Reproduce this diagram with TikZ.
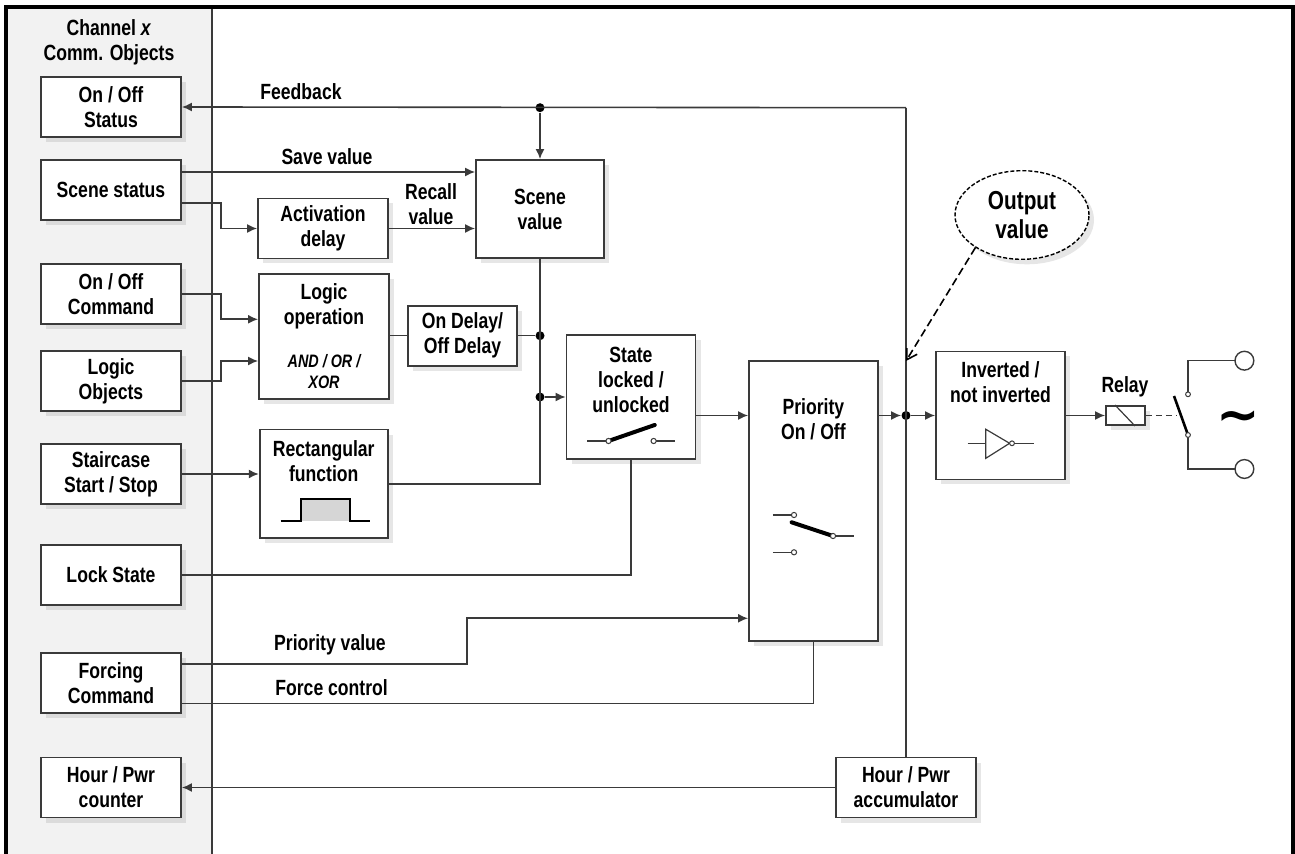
\documentclass[tikz,border=0pt]{standalone}
\usepackage{fontspec}
\setmainfont[FakeStretch=0.8]{Liberation Sans}
\newfontfamily\symfont{DejaVu Sans}
\usepackage{tikz}
\usetikzlibrary{
  positioning,
  shapes.geometric,
  arrows.meta,
  shadows,
  calc,
  }
\definecolor{linegray}{HTML}{3A3A3A}
\definecolor{panelgray}{HTML}{F2F2F2}
\definecolor{pulsegray}{HTML}{D6D6D6}
\tikzset{
  block/.style={draw=linegray, line width=0.9pt, fill=white, align=center, inner sep=0pt,
    drop shadow={shadow xshift=2.5pt, shadow yshift=-2.5pt, opacity=0.2}},
  objbox/.style={block, minimum width=70pt, minimum height=30pt},
  txt/.style={align=center, inner sep=0pt},
  conn/.style={draw=linegray, line width=0.8pt},
  arr/.style={conn, -{Latex[length=5pt,width=4.5pt]}},
  jdot/.style={circle, fill=black, inner sep=0pt, minimum size=4.5pt},
  contact/.style={draw=linegray, fill=white, line width=0.5pt},
}
\begin{document}
\begin{tikzpicture}
                [x=0.5pt, y=-0.5pt,
                 every node/.style={font=\bfseries\fontsize{11}{12.5}\selectfont}]
                \useasboundingbox (0,0) rectangle (1295,854);
                % panel of comm. objects and frame
                \fill[panelgray] (8,9) rectangle (212,854);
                \draw[linegray, line width=0.7pt] (212,9) -- (212,854);
                \draw[line width=1.6pt] (6,854) -- (6,7) -- (1293,7) -- (1293,854);

                \node[txt] (title) at (109,42) {Channel \textit{x}\\Comm. Objects};
                \node[objbox] (status) at (111,107) {On / Off\\Status};
                \node[objbox] (scene) at (111,190) {Scene status};
                \node[objbox] (cmd) at (111,294) {On / Off\\Command};
                \node[objbox] (logic) at (111,381) {Logic\\Objects};
                \node[objbox] (stair) at (111,474) {Staircase\\Start / Stop};
                \node[objbox] (lock) at (111,575) {Lock State};
                \node[objbox] (forcing) at (111,683) {Forcing\\Command};
                \node[objbox] (counter) at (111,787.5) {Hour / Pwr\\counter};

                % function blocks
                \node[block, minimum width=64pt, minimum height=49pt] (sceneval) at (540,209) {Scene\\value};
                \node[block, minimum width=65pt, minimum height=30pt] (actdelay) at (323,228.5) {Activation\\delay};
                \node[block, minimum width=65pt, minimum height=62.5pt] (logicop) at (324,336.5)
                    {Logic\\operation\\[9pt]{\fontsize{9}{10.5}\selectfont\itshape AND / OR /}\\[-2pt]{\fontsize{9}{10.5}\selectfont\itshape XOR}};
                \node[block, minimum width=54.5pt, minimum height=30pt] (ondelay) at (462.5,335.7) {On Delay/\\Off Delay};
                \node[block, minimum width=64pt, minimum height=54.4pt] (rectfn) at (323.7,484) {};
                \node[block, minimum width=64.5pt, minimum height=62pt] (state) at (631,397) {};
                \node[block, minimum width=64.4pt, minimum height=140pt] (prio) at (813.4,500.7) {};
                \node[block, minimum width=64.5pt, minimum height=64pt] (inv) at (1000.5,415.5) {};
                \node[block, minimum width=19.5pt, minimum height=9.5pt] (relay) at (1125.5,415.5) {};
                \node[objbox] (acc) at (906,787.5) {Hour / Pwr\\accumulator};
                \node[ellipse, draw=black, line width=0.7pt, dash pattern=on 2pt off 1pt, fill=white,
                      minimum width=67pt, minimum height=44.3pt, inner sep=0pt, align=center,
                      drop shadow={shadow xshift=2.5pt, shadow yshift=-2.5pt, opacity=0.2},
                      font=\bfseries\fontsize{13}{14.7}\selectfont] (outval) at (1022,215) {Output\\value};

                \node[txt] (rectfn-t) at (323.7,461.5) {Rectangular\\function};
                \node[txt] (state-t) at (631,380.3) {State\\locked /\\unlocked};
                \node[txt] (prio-t) at (813.4,419.2) {Priority\\On / Off};
                \node[txt] (inv-t) at (1000.5,382.5) {Inverted /\\not inverted};

                % labels
                \node[txt] (fblabel) at (301,92) {Feedback};
                \node[txt] (savelabel) at (327,157) {Save value};
                \node[txt] (recalllabel) at (431,204) {Recall\\value};
                \node[txt] (priolabel) at (330,645) {Priority value};
                \node[txt] (forcelabel) at (331.6,687.3) {Force control};
                \node[txt] (relaylabel) at (1125,386.7) {Relay};
                \node[txt, font=\symfont\bfseries\fontsize{26}{26}\selectfont] (tilde) at (1238.6,422) {\char"223C};

                % junctions
                \coordinate (fbtop) at (906,107.7);
                \node[jdot] (fbdot) at (540,107.7) {};
                \node[jdot] (dlydot) at (540,335.7) {};
                \node[jdot] (stdot) at (540,397) {};
                \node[jdot] (outdot) at (906,415.5) {};
                \coordinate (ovtip) at (906,361);

                % connectors
                \draw[arr] (fbtop) -- (status.east);
                \draw[conn] (fbtop) -- (acc.north);
                \draw[arr] ([yshift=9pt]scene.east) -- ([yshift=9pt]scene.east -| sceneval.west);
                \draw[arr] ([yshift=-6.5pt]scene.east) -- ++(19.5pt,0) |- (actdelay.west);
                \draw[arr] (actdelay.east) -- (actdelay.east -| sceneval.west);
                \draw[arr] (cmd.east) -- ++(19.5pt,0) |- ([yshift=8.6pt]logicop.west);
                \draw[arr] (logic.east) -- ++(19.5pt,0) |- ([yshift=-12.25pt]logicop.west);
                \draw[conn] (logicop.east |- ondelay.west) -- (ondelay.west);
                \draw[conn] (ondelay.east) -- (dlydot);
                \draw[conn] (sceneval.south) |- (rectfn.east);
                \draw[arr] (stair.east) -- (stair.east -| rectfn.west);
                \draw[conn] (lock.east) -| (state.south);
                \draw[arr] (state.east |- outdot) -- (prio.west |- outdot);
                \draw[arr] (prio.east |- outdot) -- (outdot);
                \draw[arr] ([yshift=9.5pt]forcing.east) -- ++(142.5pt,0) |- ([yshift=-58.8pt]prio.west);
                \draw[conn] ([yshift=-10.3pt]forcing.east) -| (prio.south);
                \foreach \from/\to in {fbdot/sceneval,stdot/state,outdot/inv,inv/relay,acc/counter}
                    \draw[arr] (\from) -- (\to);
                \draw[draw=black, line width=0.8pt, dash pattern=on 4pt off 2pt, -{Straight Barb[length=5pt,width=6pt]}]
                    (outval.215) -- (ovtip);

                % pulse
                \fill[pulsegray] (301,521.3) rectangle (349.5,498.7);
                \draw[line width=1pt] (280.6,521.3) -- (301,521.3) -- (301,498.7) -- (349.5,498.7) -- (349.5,521.3) -- (370,521.3);

                % lock switch
                \draw[conn, line width=0.6pt] (587,441) -- (608.5,441) (653.6,441) -- (675,441);
                \draw[line width=2pt, line cap=round] (608.5,441) -- (654.7,425);
                \filldraw[contact] (608.5,441) circle (1.3pt) (653.6,441) circle (1.3pt);

                % priority switch
                \draw[conn, line width=0.6pt] (772.8,515) -- (794,515) (833,536) -- (854,536) (772.8,552.3) -- (794,552.3);
                \draw[line width=2pt, line cap=round] (791.6,522.3) -- (833,536);
                \filldraw[contact] (794,515) circle (1.3pt) (833,536) circle (1.3pt) (794,552.3) circle (1.3pt);

                % inverter
                \draw[conn, line width=0.6pt] (967.5,443.3) -- (985.8,443.3) (1014.4,443.3) -- (1033.5,443.3);
                \draw[conn, line width=0.6pt] (985.8,429.3) -- (985.8,458.3) -- (1009.6,443.3) -- cycle;
                \filldraw[contact] (1012,443.3) circle (1.2pt);

                % relay and output contact
                \draw[conn, line width=0.6pt] ([xshift=5pt]relay.north west) -- ([xshift=-5.5pt]relay.south east);
                \draw[conn, line width=0.9pt, dash pattern=on 3pt off 2pt] (relay.east) -- (1177,415.5);
                \draw[line width=1.3pt] (1188,435) -- (1174,396);
                \draw[conn] (1188,391.8) -- (1188,360.7) -- (1235,360.7)
                            (1188,437.5) -- (1188,469) -- (1235,469);
                \filldraw[contact] (1188,394.3) circle (1.2pt) (1188,435) circle (1.2pt);
                \filldraw[contact, line width=0.7pt] (1244.4,360.7) circle (4.7pt) (1244.4,469) circle (4.7pt);

            \end{tikzpicture}
\end{document}
